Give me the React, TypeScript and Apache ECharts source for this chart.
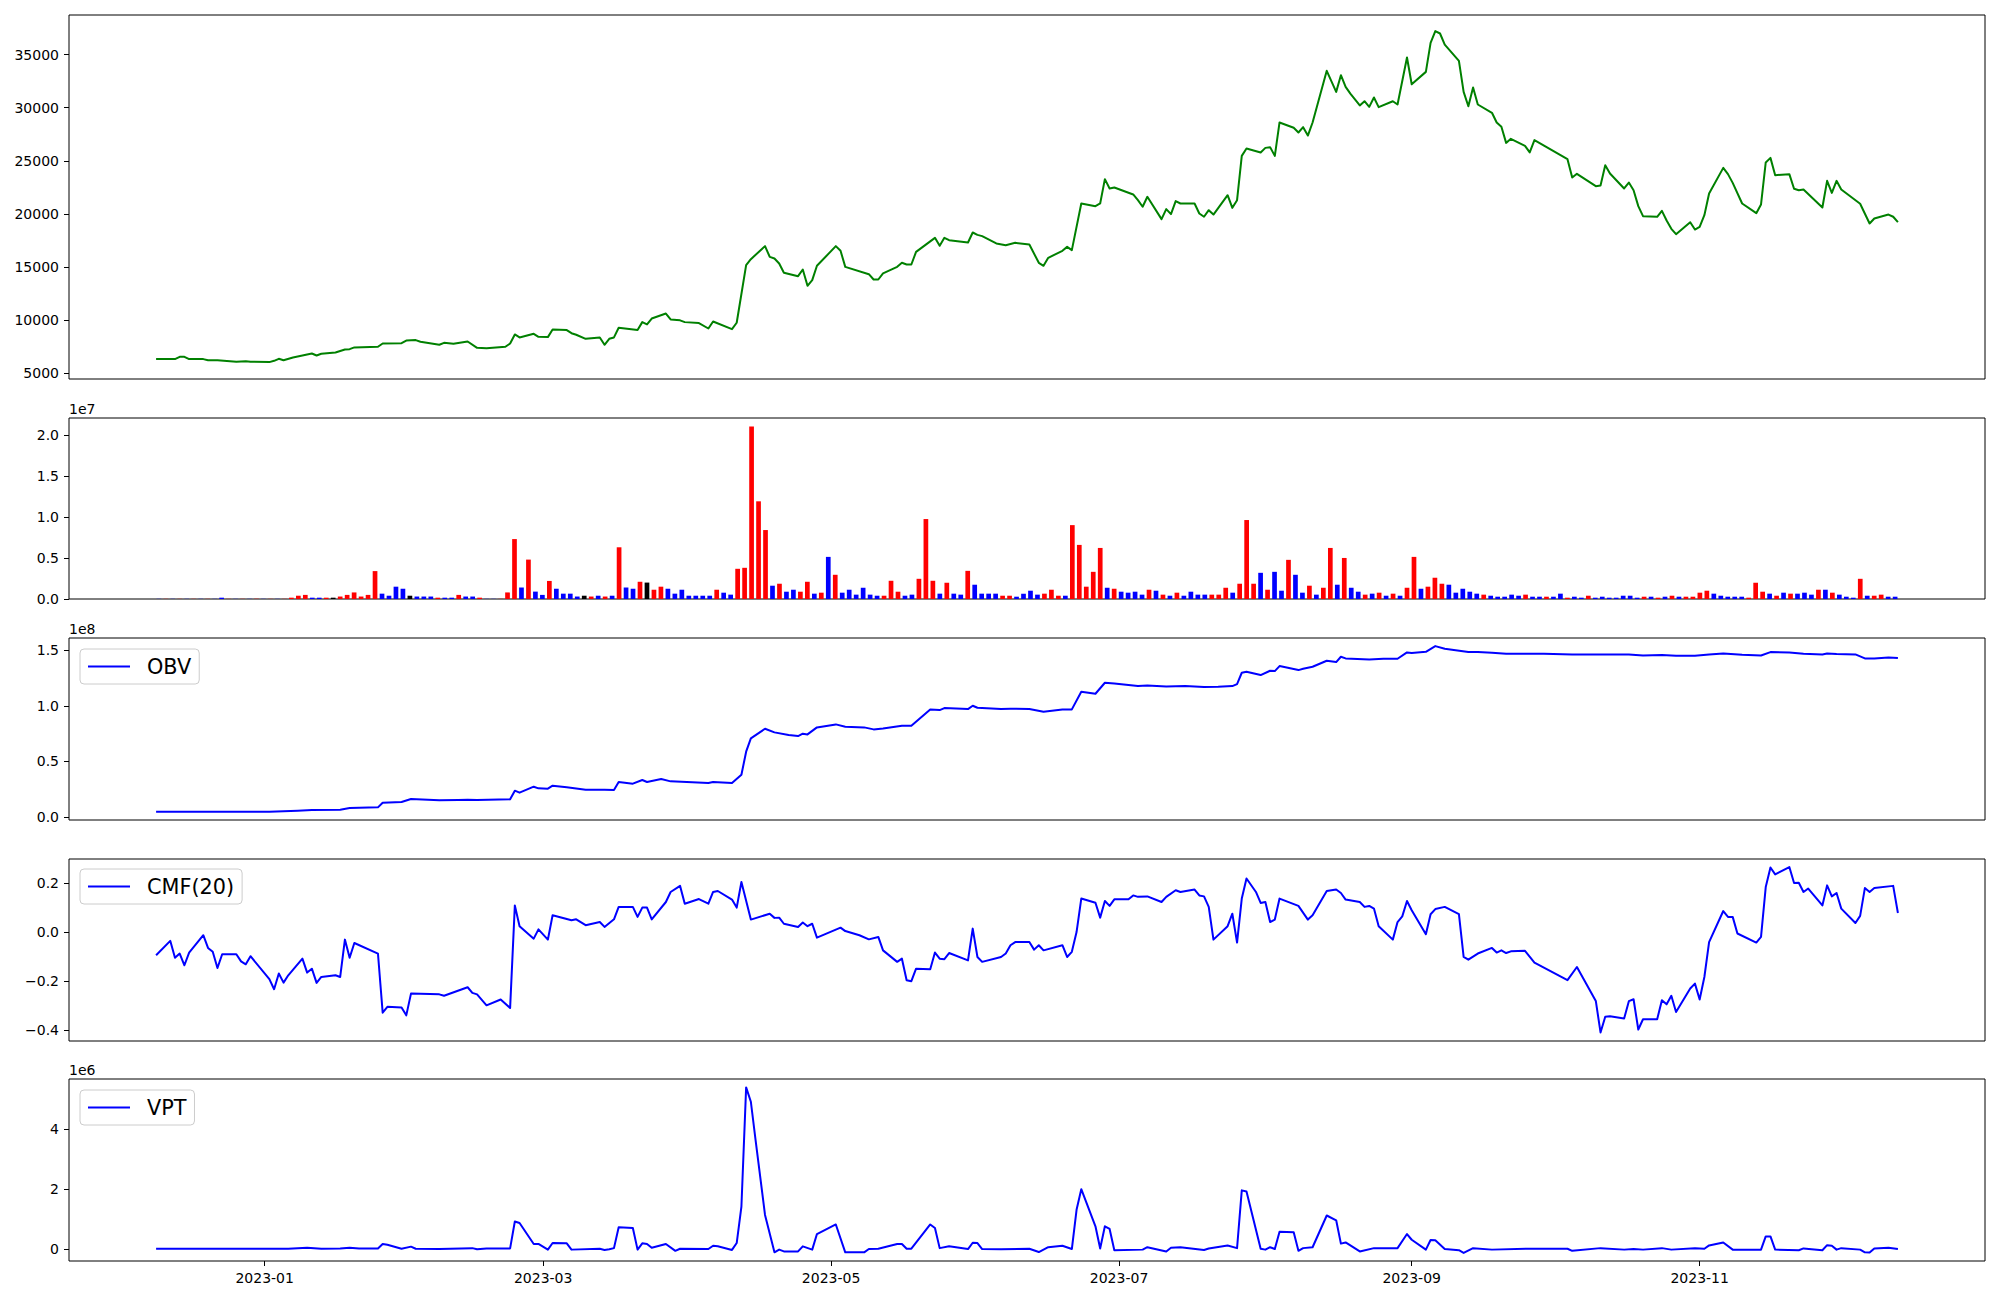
import React, { useEffect, useRef } from 'react';
import * as echarts from 'echarts';

// ---------- x axis (dates) ----------
const xTickLabels = ['2023-01', '2023-03', '2023-05', '2023-07', '2023-09', '2023-11'];
const xAxisRange = ['2022-11-20 13:12', '2023-12-31 10:48'];

// ---------- price (close) ----------
const price: [string, number][] = [
  ['2022-12-09', 6350], ['2022-12-13', 6350], ['2022-12-14', 6570], ['2022-12-15', 6570], ['2022-12-16', 6350], ['2022-12-19', 6350], ['2022-12-20', 6250], ['2022-12-22', 6250], ['2022-12-26', 6100], ['2022-12-28', 6160], ['2022-12-29', 6100],
  ['2023-01-02', 6070], ['2023-01-03', 6190], ['2023-01-04', 6380], ['2023-01-05', 6250], ['2023-01-07', 6500], ['2023-01-11', 6880], ['2023-01-12', 6690], ['2023-01-13', 6850], ['2023-01-16', 6980], ['2023-01-18', 7260], ['2023-01-19', 7290], ['2023-01-20', 7450], ['2023-01-25', 7510], ['2023-01-26', 7820], ['2023-01-30', 7850], ['2023-01-31', 8100],
  ['2023-02-02', 8140], ['2023-02-03', 7980], ['2023-02-07', 7700], ['2023-02-08', 7880], ['2023-02-10', 7790], ['2023-02-13', 8010], ['2023-02-15', 7410], ['2023-02-17', 7380], ['2023-02-21', 7510], ['2023-02-22', 7820], ['2023-02-23', 8670], ['2023-02-24', 8390], ['2023-02-27', 8730], ['2023-02-28', 8450],
  ['2023-03-02', 8420], ['2023-03-03', 9140], ['2023-03-06', 9080], ['2023-03-07', 8790], ['2023-03-08', 8640], ['2023-03-10', 8260], ['2023-03-13', 8390], ['2023-03-14', 7700], ['2023-03-15', 8260], ['2023-03-16', 8390], ['2023-03-17', 9300], ['2023-03-21', 9080], ['2023-03-22', 9830], ['2023-03-23', 9610], ['2023-03-24', 10170], ['2023-03-27', 10640], ['2023-03-28', 10080], ['2023-03-30', 10000], ['2023-03-31', 9830],
  ['2023-04-03', 9740], ['2023-04-05', 9230], ['2023-04-06', 9890], ['2023-04-10', 9170], ['2023-04-11', 9770], ['2023-04-13', 15190], ['2023-04-14', 15750], ['2023-04-17', 16980], ['2023-04-18', 15970], ['2023-04-19', 15820], ['2023-04-20', 15350], ['2023-04-21', 14470], ['2023-04-24', 14150], ['2023-04-25', 14780], ['2023-04-26', 13250], ['2023-04-27', 13780], ['2023-04-28', 15130],
  ['2023-05-02', 16980], ['2023-05-03', 16540], ['2023-05-04', 15030], ['2023-05-09', 14340], ['2023-05-10', 13840], ['2023-05-11', 13840], ['2023-05-12', 14410], ['2023-05-15', 15030], ['2023-05-16', 15410], ['2023-05-17', 15250], ['2023-05-18', 15250], ['2023-05-19', 16440], ['2023-05-23', 17760], ['2023-05-24', 17010], ['2023-05-25', 17760], ['2023-05-26', 17540], ['2023-05-30', 17320], ['2023-05-31', 18260],
  ['2023-06-01', 18040], ['2023-06-02', 17920], ['2023-06-05', 17230], ['2023-06-07', 17070], ['2023-06-09', 17290], ['2023-06-12', 17130], ['2023-06-14', 15410], ['2023-06-15', 15130], ['2023-06-16', 15880], ['2023-06-19', 16540], ['2023-06-20', 16910], ['2023-06-21', 16600], ['2023-06-23', 20990], ['2023-06-26', 20740], ['2023-06-27', 20990], ['2023-06-28', 23280], ['2023-06-29', 22400], ['2023-06-30', 22490],
  ['2023-07-04', 21840], ['2023-07-05', 21300], ['2023-07-06', 20680], ['2023-07-07', 21620], ['2023-07-10', 19520], ['2023-07-11', 20460], ['2023-07-12', 19990], ['2023-07-13', 21210], ['2023-07-14', 20990], ['2023-07-17', 20990], ['2023-07-18', 20050], ['2023-07-19', 19740], ['2023-07-20', 20360], ['2023-07-21', 19950], ['2023-07-24', 21770], ['2023-07-25', 20580], ['2023-07-26', 21300], ['2023-07-27', 25470], ['2023-07-28', 26160], ['2023-07-31', 25790],
  ['2023-08-01', 26220], ['2023-08-02', 26290], ['2023-08-03', 25470], ['2023-08-04', 28610], ['2023-08-07', 28110], ['2023-08-08', 27670], ['2023-08-09', 28170], ['2023-08-10', 27380], ['2023-08-11', 28610], ['2023-08-14', 33470], ['2023-08-16', 31490], ['2023-08-17', 33060], ['2023-08-18', 31960], ['2023-08-19', 31330], ['2023-08-21', 30210], ['2023-08-22', 30610], ['2023-08-23', 30080], ['2023-08-24', 30960], ['2023-08-25', 30050], ['2023-08-28', 30610], ['2023-08-29', 30300], ['2023-08-31', 34720],
  ['2023-09-01', 32210], ['2023-09-04', 33370], ['2023-09-05', 36100], ['2023-09-06', 37200], ['2023-09-07', 36980], ['2023-09-08', 35940], ['2023-09-11', 34410], ['2023-09-12', 31490], ['2023-09-13', 30140], ['2023-09-14', 31900], ['2023-09-15', 30300], ['2023-09-18', 29520], ['2023-09-19', 28610], ['2023-09-20', 28200], ['2023-09-21', 26690], ['2023-09-22', 27070], ['2023-09-25', 26410], ['2023-09-26', 25790], ['2023-09-27', 26950],
  ['2023-10-04', 25160], ['2023-10-05', 23430], ['2023-10-06', 23780], ['2023-10-10', 22620], ['2023-10-11', 22680], ['2023-10-12', 24590], ['2023-10-13', 23810], ['2023-10-16', 22400], ['2023-10-17', 22960], ['2023-10-18', 22240], ['2023-10-19', 20740], ['2023-10-20', 19800], ['2023-10-23', 19740], ['2023-10-24', 20300], ['2023-10-25', 19390], ['2023-10-26', 18610], ['2023-10-27', 18100], ['2023-10-30', 19230], ['2023-10-31', 18540],
  ['2023-11-01', 18790], ['2023-11-02', 19890], ['2023-11-03', 21930], ['2023-11-06', 24340], ['2023-11-07', 23750], ['2023-11-08', 22930], ['2023-11-10', 20990], ['2023-11-13', 20080], ['2023-11-14', 20900], ['2023-11-15', 24850], ['2023-11-16', 25280], ['2023-11-17', 23650], ['2023-11-20', 23750], ['2023-11-21', 22370], ['2023-11-22', 22240], ['2023-11-23', 22310], ['2023-11-27', 20610], ['2023-11-28', 23120], ['2023-11-29', 21990], ['2023-11-30', 23120],
  ['2023-12-01', 22310], ['2023-12-05', 20960], ['2023-12-07', 19110], ['2023-12-08', 19580], ['2023-12-11', 19950], ['2023-12-12', 19740], ['2023-12-13', 19230],
];

// ---------- volume (one bar per trading session, in shares) ----------
const volume: number[] = [
  0.02e6, 0.02e6, 0.02e6, 0.02e6, 0.02e6, 0.02e6, 0.02e6, 0.02e6, 0.02e6, 0.16e6,
  0.02e6, 0.02e6, 0.02e6, 0.02e6, 0.02e6, 0.02e6, 0.02e6, 0.02e6, 0.02e6, 0.16e6,
  0.4e6, 0.5e6, 0.16e6, 0.16e6, 0.16e6, 0.16e6, 0.3e6, 0.5e6, 0.8e6, 0.3e6,
  0.5e6, 3.4e6, 0.65e6, 0.4e6, 1.5e6, 1.25e6, 0.4e6, 0.3e6, 0.3e6, 0.3e6,
  0.16e6, 0.16e6, 0.16e6, 0.5e6, 0.3e6, 0.3e6, 0.16e6, 0.02e6, 0.02e6, 0.02e6,
  0.8e6, 7.3e6, 1.4e6, 4.8e6, 0.9e6, 0.5e6, 2.2e6, 1.25e6, 0.65e6, 0.65e6,
  0.3e6, 0.4e6, 0.3e6, 0.4e6, 0.3e6, 0.4e6, 6.3e6, 1.4e6, 1.25e6, 2.1e6,
  2.0e6, 1.13e6, 1.5e6, 1.25e6, 0.65e6, 1.13e6, 0.4e6, 0.4e6, 0.4e6, 0.4e6,
  1.13e6, 0.77e6, 0.53e6, 3.68e6, 3.8e6, 21.0e6, 11.9e6, 8.4e6, 1.62e6, 1.86e6,
  0.89e6, 1.13e6, 0.89e6, 2.1e6, 0.65e6, 0.77e6, 5.13e6, 2.95e6, 0.77e6, 1.13e6,
  0.53e6, 1.37e6, 0.53e6, 0.4e6, 0.4e6, 2.22e6, 0.89e6, 0.4e6, 0.53e6, 2.46e6,
  9.74e6, 2.22e6, 0.65e6, 1.98e6, 0.65e6, 0.53e6, 3.43e6, 1.74e6, 0.65e6, 0.65e6,
  0.65e6, 0.4e6, 0.4e6, 0.28e6, 0.65e6, 1.01e6, 0.53e6, 0.65e6, 1.13e6, 0.4e6,
  0.4e6, 9.0e6, 6.59e6, 1.5e6, 3.31e6, 6.22e6, 1.37e6, 1.25e6, 0.89e6, 0.77e6,
  0.89e6, 0.53e6, 1.13e6, 1.01e6, 0.53e6, 0.4e6, 0.77e6, 0.4e6, 0.89e6, 0.53e6,
  0.53e6, 0.53e6, 0.53e6, 1.37e6, 0.77e6, 1.86e6, 9.62e6, 1.86e6, 3.19e6, 1.13e6,
  3.31e6, 1.01e6, 4.77e6, 2.95e6, 0.77e6, 1.62e6, 0.53e6, 1.37e6, 6.22e6, 1.74e6,
  5.0e6, 1.37e6, 0.89e6, 0.53e6, 0.65e6, 0.77e6, 0.4e6, 0.65e6, 0.4e6, 1.37e6,
  5.13e6, 1.25e6, 1.5e6, 2.59e6, 1.86e6, 1.74e6, 0.77e6, 1.25e6, 0.89e6, 0.65e6,
  0.53e6, 0.4e6, 0.28e6, 0.28e6, 0.53e6, 0.4e6, 0.53e6, 0.28e6, 0.28e6, 0.28e6,
  0.28e6, 0.65e6, 0.16e6, 0.28e6, 0.16e6, 0.4e6, 0.16e6, 0.28e6, 0.16e6, 0.16e6,
  0.4e6, 0.4e6, 0.16e6, 0.28e6, 0.28e6, 0.16e6, 0.28e6, 0.4e6, 0.28e6, 0.28e6,
  0.28e6, 0.77e6, 1.01e6, 0.65e6, 0.4e6, 0.28e6, 0.28e6, 0.28e6, 0.16e6, 1.98e6,
  0.89e6, 0.65e6, 0.4e6, 0.77e6, 0.65e6, 0.65e6, 0.77e6, 0.53e6, 1.13e6, 1.13e6,
  0.77e6, 0.53e6, 0.28e6, 0.16e6, 2.46e6, 0.4e6, 0.4e6, 0.53e6, 0.28e6, 0.28e6,
];
// 1 = close up (red), -1 = close down (blue), 0 = unchanged (black)
const volumeSign: number[] = [
  -1, 1, -1, 1, -1, 1, -1, 1, -1, -1,
  1, -1, 1, -1, 1, -1, 1, -1, 1, 1,
  1, 1, -1, -1, 1, 0, 1, 1, 1, 1,
  1, 1, -1, -1, -1, -1, 0, -1, -1, -1,
  1, -1, -1, 1, -1, -1, 1, -1, -1, 1,
  1, 1, -1, 1, -1, -1, 1, -1, -1, -1,
  -1, 0, 1, -1, 1, -1, 1, -1, -1, 1,
  0, 1, 1, -1, -1, -1, -1, -1, -1, -1,
  1, -1, -1, 1, 1, 1, 1, 1, -1, 1,
  -1, -1, 1, 1, -1, 1, -1, 1, -1, -1,
  -1, -1, -1, -1, 1, 1, 1, -1, -1, 1,
  1, 1, -1, 1, -1, -1, 1, -1, -1, -1,
  -1, 1, 1, -1, -1, -1, -1, 1, 1, 1,
  -1, 1, 1, 1, 1, 1, -1, 1, -1, -1,
  -1, -1, 1, -1, 1, -1, 1, -1, -1, -1,
  -1, 1, 1, 1, -1, 1, 1, 1, -1, 1,
  -1, -1, 1, -1, -1, 1, -1, 1, 1, -1,
  1, -1, -1, 1, -1, 1, -1, 1, -1, 1,
  1, -1, 1, 1, 1, -1, -1, -1, -1, -1,
  1, -1, -1, -1, -1, -1, 1, -1, -1, 1,
  -1, -1, 1, -1, -1, 1, -1, -1, -1, -1,
  -1, -1, -1, 1, -1, 1, -1, 1, -1, 1,
  1, 1, 1, -1, -1, -1, -1, -1, 1, 1,
  1, -1, 1, -1, 1, -1, -1, -1, 1, -1,
  1, -1, -1, -1, 1, -1, 1, 1, -1, -1,
];

// ---------- OBV ----------
const obv: [string, number][] = [
  ['2022-12-09', 0.048e8], ['2023-01-02', 0.048e8], ['2023-01-08', 0.057e8], ['2023-01-11', 0.063e8], ['2023-01-17', 0.066e8], ['2023-01-19', 0.081e8], ['2023-01-25', 0.087e8], ['2023-01-26', 0.129e8], ['2023-01-30', 0.135e8],
  ['2023-02-01', 0.162e8], ['2023-02-07', 0.150e8], ['2023-02-11', 0.153e8], ['2023-02-13', 0.156e8], ['2023-02-15', 0.153e8], ['2023-02-22', 0.159e8], ['2023-02-23', 0.237e8], ['2023-02-24', 0.219e8], ['2023-02-27', 0.273e8], ['2023-02-28', 0.258e8],
  ['2023-03-02', 0.255e8], ['2023-03-03', 0.282e8], ['2023-03-06', 0.267e8], ['2023-03-10', 0.246e8], ['2023-03-14', 0.246e8], ['2023-03-16', 0.243e8], ['2023-03-17', 0.315e8], ['2023-03-20', 0.300e8], ['2023-03-22', 0.333e8], ['2023-03-23', 0.315e8], ['2023-03-26', 0.342e8], ['2023-03-28', 0.321e8],
  ['2023-04-05', 0.306e8], ['2023-04-06', 0.315e8], ['2023-04-10', 0.306e8], ['2023-04-12', 0.381e8], ['2023-04-13', 0.588e8], ['2023-04-14', 0.708e8], ['2023-04-17', 0.795e8], ['2023-04-19', 0.762e8], ['2023-04-22', 0.738e8], ['2023-04-24', 0.729e8], ['2023-04-25', 0.750e8], ['2023-04-26', 0.744e8], ['2023-04-28', 0.807e8],
  ['2023-05-02', 0.834e8], ['2023-05-04', 0.813e8], ['2023-05-08', 0.807e8], ['2023-05-10', 0.789e8], ['2023-05-12', 0.798e8], ['2023-05-16', 0.822e8], ['2023-05-18', 0.822e8], ['2023-05-22', 0.969e8], ['2023-05-24', 0.963e8], ['2023-05-25', 0.981e8], ['2023-05-30', 0.972e8], ['2023-05-31', 1.002e8],
  ['2023-06-01', 0.984e8], ['2023-06-06', 0.972e8], ['2023-06-08', 0.975e8], ['2023-06-12', 0.972e8], ['2023-06-15', 0.948e8], ['2023-06-19', 0.969e8], ['2023-06-21', 0.969e8], ['2023-06-23', 1.128e8], ['2023-06-26', 1.110e8], ['2023-06-28', 1.209e8], ['2023-06-30', 1.203e8],
  ['2023-07-05', 1.179e8], ['2023-07-07', 1.185e8], ['2023-07-11', 1.176e8], ['2023-07-15', 1.179e8], ['2023-07-19', 1.170e8], ['2023-07-22', 1.173e8], ['2023-07-25', 1.179e8], ['2023-07-26', 1.197e8], ['2023-07-27', 1.299e8], ['2023-07-28', 1.308e8], ['2023-07-31', 1.278e8],
  ['2023-08-02', 1.317e8], ['2023-08-03', 1.314e8], ['2023-08-04', 1.359e8], ['2023-08-08', 1.323e8], ['2023-08-09', 1.335e8], ['2023-08-11', 1.353e8], ['2023-08-14', 1.407e8], ['2023-08-16', 1.395e8], ['2023-08-17', 1.443e8], ['2023-08-18', 1.428e8], ['2023-08-23', 1.419e8], ['2023-08-26', 1.425e8], ['2023-08-29', 1.425e8], ['2023-08-31', 1.482e8],
  ['2023-09-01', 1.476e8], ['2023-09-04', 1.488e8], ['2023-09-06', 1.539e8], ['2023-09-08', 1.515e8], ['2023-09-13', 1.485e8], ['2023-09-15', 1.485e8], ['2023-09-18', 1.479e8], ['2023-09-21', 1.470e8], ['2023-09-29', 1.470e8],
  ['2023-10-05', 1.464e8], ['2023-10-11', 1.464e8], ['2023-10-17', 1.464e8], ['2023-10-20', 1.455e8], ['2023-10-24', 1.458e8], ['2023-10-27', 1.452e8], ['2023-10-31', 1.452e8],
  ['2023-11-03', 1.464e8], ['2023-11-06', 1.473e8], ['2023-11-10', 1.461e8], ['2023-11-14', 1.455e8], ['2023-11-16', 1.485e8], ['2023-11-20', 1.482e8], ['2023-11-23', 1.470e8], ['2023-11-27', 1.464e8], ['2023-11-28', 1.473e8], ['2023-11-30', 1.467e8],
  ['2023-12-04', 1.464e8], ['2023-12-06', 1.428e8], ['2023-12-08', 1.428e8], ['2023-12-11', 1.437e8], ['2023-12-13', 1.431e8],
];

// ---------- CMF(20) ----------
const cmf: [string, number][] = [
  ['2022-12-09', -0.094], ['2022-12-12', -0.035], ['2022-12-13', -0.104], ['2022-12-14', -0.087], ['2022-12-15', -0.135], ['2022-12-16', -0.083], ['2022-12-19', -0.012], ['2022-12-20', -0.064], ['2022-12-21', -0.080], ['2022-12-22', -0.146], ['2022-12-23', -0.090], ['2022-12-26', -0.090], ['2022-12-27', -0.119], ['2022-12-28', -0.131], ['2022-12-29', -0.098],
  ['2023-01-02', -0.192], ['2023-01-03', -0.233], ['2023-01-04', -0.169], ['2023-01-05', -0.206], ['2023-01-06', -0.176], ['2023-01-09', -0.108], ['2023-01-10', -0.165], ['2023-01-11', -0.149], ['2023-01-12', -0.207], ['2023-01-13', -0.183], ['2023-01-16', -0.176], ['2023-01-17', -0.183], ['2023-01-18', -0.030], ['2023-01-19', -0.104], ['2023-01-20', -0.044], ['2023-01-25', -0.087], ['2023-01-26', -0.329], ['2023-01-27', -0.305], ['2023-01-30', -0.308], ['2023-01-31', -0.340],
  ['2023-02-01', -0.251], ['2023-02-07', -0.254], ['2023-02-08', -0.260], ['2023-02-13', -0.225], ['2023-02-14', -0.248], ['2023-02-15', -0.254], ['2023-02-17', -0.299], ['2023-02-20', -0.275], ['2023-02-22', -0.310], ['2023-02-23', 0.110], ['2023-02-24', 0.025], ['2023-02-27', -0.026], ['2023-02-28', 0.012],
  ['2023-03-02', -0.030], ['2023-03-03', 0.070], ['2023-03-07', 0.049], ['2023-03-08', 0.053], ['2023-03-10', 0.029], ['2023-03-13', 0.042], ['2023-03-14', 0.022], ['2023-03-16', 0.053], ['2023-03-17', 0.104], ['2023-03-20', 0.104], ['2023-03-21', 0.063], ['2023-03-22', 0.101], ['2023-03-23', 0.101], ['2023-03-24', 0.053], ['2023-03-27', 0.124], ['2023-03-28', 0.165], ['2023-03-30', 0.190], ['2023-03-31', 0.117],
  ['2023-04-03', 0.136], ['2023-04-05', 0.117], ['2023-04-06', 0.165], ['2023-04-07', 0.169], ['2023-04-10', 0.134], ['2023-04-11', 0.101], ['2023-04-12', 0.206], ['2023-04-14', 0.052], ['2023-04-18', 0.076], ['2023-04-19', 0.059], ['2023-04-20', 0.060], ['2023-04-21', 0.035], ['2023-04-24', 0.022], ['2023-04-25', 0.040], ['2023-04-26', 0.025], ['2023-04-27', 0.035], ['2023-04-28', -0.022],
  ['2023-05-03', 0.019], ['2023-05-04', 0.005], ['2023-05-07', -0.012], ['2023-05-09', -0.029], ['2023-05-11', -0.019], ['2023-05-12', -0.074], ['2023-05-15', -0.121], ['2023-05-16', -0.108], ['2023-05-17', -0.196], ['2023-05-18', -0.200], ['2023-05-19', -0.149], ['2023-05-22', -0.151], ['2023-05-23', -0.083], ['2023-05-24', -0.108], ['2023-05-25', -0.110], ['2023-05-26', -0.085], ['2023-05-30', -0.115], ['2023-05-31', 0.015],
  ['2023-06-01', -0.101], ['2023-06-02', -0.121], ['2023-06-06', -0.101], ['2023-06-07', -0.087], ['2023-06-08', -0.053], ['2023-06-09', -0.040], ['2023-06-12', -0.040], ['2023-06-13', -0.071], ['2023-06-14', -0.053], ['2023-06-15', -0.074], ['2023-06-19', -0.053], ['2023-06-20', -0.101], ['2023-06-21', -0.080], ['2023-06-22', 0.001], ['2023-06-23', 0.138], ['2023-06-26', 0.121], ['2023-06-27', 0.060], ['2023-06-28', 0.128], ['2023-06-29', 0.108], ['2023-06-30', 0.135],
  ['2023-07-03', 0.135], ['2023-07-04', 0.151], ['2023-07-05', 0.145], ['2023-07-07', 0.147], ['2023-07-10', 0.124], ['2023-07-11', 0.145], ['2023-07-13', 0.172], ['2023-07-14', 0.165], ['2023-07-17', 0.175], ['2023-07-18', 0.151], ['2023-07-19', 0.147], ['2023-07-20', 0.104], ['2023-07-21', -0.030], ['2023-07-24', 0.025], ['2023-07-25', 0.076], ['2023-07-26', -0.042], ['2023-07-27', 0.138], ['2023-07-28', 0.220], ['2023-07-30', 0.165], ['2023-07-31', 0.120],
  ['2023-08-01', 0.124], ['2023-08-02', 0.042], ['2023-08-03', 0.052], ['2023-08-04', 0.138], ['2023-08-08', 0.108], ['2023-08-10', 0.052], ['2023-08-11', 0.070], ['2023-08-14', 0.169], ['2023-08-16', 0.175], ['2023-08-17', 0.161], ['2023-08-18', 0.134], ['2023-08-21', 0.124], ['2023-08-22', 0.104], ['2023-08-23', 0.108], ['2023-08-24', 0.097], ['2023-08-25', 0.025], ['2023-08-28', -0.030], ['2023-08-29', 0.042], ['2023-08-30', 0.065], ['2023-08-31', 0.128],
  ['2023-09-01', 0.090], ['2023-09-04', -0.008], ['2023-09-05', 0.074], ['2023-09-06', 0.095], ['2023-09-08', 0.104], ['2023-09-11', 0.074], ['2023-09-12', -0.101], ['2023-09-13', -0.112], ['2023-09-15', -0.087], ['2023-09-18', -0.064], ['2023-09-19', -0.083], ['2023-09-20', -0.074], ['2023-09-21', -0.085], ['2023-09-22', -0.078], ['2023-09-25', -0.076], ['2023-09-27', -0.124],
  ['2023-10-04', -0.196], ['2023-10-06', -0.142], ['2023-10-10', -0.281], ['2023-10-11', -0.410], ['2023-10-12', -0.346], ['2023-10-13', -0.344], ['2023-10-16', -0.353], ['2023-10-17', -0.282], ['2023-10-18', -0.274], ['2023-10-19', -0.398], ['2023-10-20', -0.356], ['2023-10-23', -0.356], ['2023-10-24', -0.278], ['2023-10-25', -0.295], ['2023-10-26', -0.260], ['2023-10-27', -0.326], ['2023-10-30', -0.230], ['2023-10-31', -0.210],
  ['2023-11-01', -0.275], ['2023-11-02', -0.183], ['2023-11-03', -0.040], ['2023-11-06', 0.087], ['2023-11-07', 0.063], ['2023-11-08', 0.063], ['2023-11-09', -0.005], ['2023-11-13', -0.042], ['2023-11-14', -0.019], ['2023-11-15', 0.185], ['2023-11-16', 0.265], ['2023-11-17', 0.237], ['2023-11-20', 0.267], ['2023-11-21', 0.202], ['2023-11-22', 0.203], ['2023-11-23', 0.165], ['2023-11-24', 0.179], ['2023-11-27', 0.110], ['2023-11-28', 0.192], ['2023-11-29', 0.147], ['2023-11-30', 0.161],
  ['2023-12-01', 0.097], ['2023-12-04', 0.038], ['2023-12-05', 0.067], ['2023-12-06', 0.181], ['2023-12-07', 0.165], ['2023-12-08', 0.181], ['2023-12-12', 0.190], ['2023-12-13', 0.079],
];

// ---------- VPT ----------
const vpt: [string, number][] = [
  ['2022-12-09', 0.01e6], ['2023-01-06', 0.01e6], ['2023-01-10', 0.04e6], ['2023-01-13', 0.01e6], ['2023-01-17', 0.02e6], ['2023-01-19', 0.04e6], ['2023-01-21', 0.02e6], ['2023-01-25', 0.02e6], ['2023-01-26', 0.17e6], ['2023-01-27', 0.14e6], ['2023-01-30', 0.01e6],
  ['2023-02-01', 0.08e6], ['2023-02-02', 0.01e6], ['2023-02-07', 0.0], ['2023-02-14', 0.03e6], ['2023-02-15', -0.01e6], ['2023-02-17', 0.02e6], ['2023-02-22', 0.02e6], ['2023-02-23', 0.92e6], ['2023-02-24', 0.87e6], ['2023-02-27', 0.17e6], ['2023-02-28', 0.17e6],
  ['2023-03-02', -0.02e6], ['2023-03-03', 0.20e6], ['2023-03-06', 0.19e6], ['2023-03-07', -0.02e6], ['2023-03-13', 0.01e6], ['2023-03-14', -0.03e6], ['2023-03-15', -0.01e6], ['2023-03-16', 0.03e6], ['2023-03-17', 0.73e6], ['2023-03-20', 0.70e6], ['2023-03-21', -0.02e6], ['2023-03-22', 0.19e6], ['2023-03-23', 0.17e6], ['2023-03-24', 0.04e6], ['2023-03-27', 0.17e6], ['2023-03-29', -0.06e6], ['2023-03-30', 0.01e6],
  ['2023-04-05', 0.0], ['2023-04-06', 0.11e6], ['2023-04-07', 0.09e6], ['2023-04-10', -0.03e6], ['2023-04-11', 0.20e6], ['2023-04-12', 1.42e6], ['2023-04-13', 5.40e6], ['2023-04-14', 4.92e6], ['2023-04-15', 3.64e6], ['2023-04-17', 1.14e6], ['2023-04-19', -0.11e6], ['2023-04-20', -0.02e6], ['2023-04-21', -0.08e6], ['2023-04-24', -0.08e6], ['2023-04-25', 0.09e6], ['2023-04-27', -0.02e6], ['2023-04-28', 0.50e6],
  ['2023-05-02', 0.82e6], ['2023-05-04', -0.11e6], ['2023-05-08', -0.11e6], ['2023-05-09', 0.0], ['2023-05-11', 0.01e6], ['2023-05-15', 0.17e6], ['2023-05-16', 0.17e6], ['2023-05-17', 0.01e6], ['2023-05-18', 0.01e6], ['2023-05-22', 0.82e6], ['2023-05-23', 0.70e6], ['2023-05-24', 0.03e6], ['2023-05-26', 0.09e6], ['2023-05-30', 0.0], ['2023-05-31', 0.21e6],
  ['2023-06-01', 0.20e6], ['2023-06-02', 0.0], ['2023-06-06', -0.01e6], ['2023-06-12', 0.01e6], ['2023-06-14', -0.10e6], ['2023-06-16', 0.06e6], ['2023-06-19', 0.11e6], ['2023-06-21', 0.0], ['2023-06-22', 1.31e6], ['2023-06-23', 2.00e6], ['2023-06-26', 0.76e6], ['2023-06-27', 0.02e6], ['2023-06-28', 0.76e6], ['2023-06-29', 0.67e6], ['2023-06-30', -0.04e6],
  ['2023-07-06', -0.02e6], ['2023-07-07', 0.06e6], ['2023-07-11', -0.08e6], ['2023-07-12', 0.04e6], ['2023-07-14', 0.06e6], ['2023-07-19', -0.03e6], ['2023-07-20', 0.02e6], ['2023-07-24', 0.12e6], ['2023-07-26', 0.03e6], ['2023-07-27', 1.96e6], ['2023-07-28', 1.92e6], ['2023-07-31', 0.01e6],
  ['2023-08-01', -0.02e6], ['2023-08-02', 0.06e6], ['2023-08-03', 0.0], ['2023-08-04', 0.58e6], ['2023-08-07', 0.56e6], ['2023-08-08', -0.06e6], ['2023-08-09', 0.03e6], ['2023-08-11', 0.06e6], ['2023-08-14', 1.12e6], ['2023-08-16', 0.96e6], ['2023-08-17', 0.18e6], ['2023-08-18', 0.22e6], ['2023-08-21', -0.08e6], ['2023-08-24', 0.03e6], ['2023-08-29', 0.03e6], ['2023-08-31', 0.50e6],
  ['2023-09-01', 0.31e6], ['2023-09-04', -0.02e6], ['2023-09-05', 0.30e6], ['2023-09-06', 0.29e6], ['2023-09-08', 0.0], ['2023-09-11', -0.04e6], ['2023-09-12', -0.13e6], ['2023-09-14', 0.03e6], ['2023-09-18', -0.02e6], ['2023-09-26', 0.01e6],
  ['2023-10-04', 0.01e6], ['2023-10-05', -0.06e6], ['2023-10-11', 0.03e6], ['2023-10-16', -0.02e6], ['2023-10-18', 0.0], ['2023-10-20', -0.02e6], ['2023-10-24', 0.03e6], ['2023-10-26', -0.02e6], ['2023-10-31', 0.03e6],
  ['2023-11-02', 0.01e6], ['2023-11-03', 0.12e6], ['2023-11-06', 0.22e6], ['2023-11-08', -0.02e6], ['2023-11-14', -0.02e6], ['2023-11-15', 0.42e6], ['2023-11-16', 0.42e6], ['2023-11-17', -0.02e6], ['2023-11-22', -0.04e6], ['2023-11-23', 0.02e6], ['2023-11-27', -0.04e6], ['2023-11-28', 0.13e6], ['2023-11-29', 0.11e6], ['2023-11-30', -0.02e6],
  ['2023-12-01', 0.03e6], ['2023-12-05', -0.02e6], ['2023-12-06', -0.11e6], ['2023-12-07', -0.12e6], ['2023-12-08', 0.02e6], ['2023-12-11', 0.04e6], ['2023-12-13', 0.0],
];

// ---------- y axis ticks / limits ----------
const priceTicks = [5000, 10000, 15000, 20000, 25000, 30000, 35000];
const priceLimits = [4480, 38720];
const volumeTicks = [0, 0.5e7, 1.0e7, 1.5e7, 2.0e7];
const volumeLimits = [0, 2.205e7];
const obvTicks = [0, 0.5e8, 1.0e8, 1.5e8];
const obvLimits = [-0.027e8, 1.612e8];
const cmfTicks = [-0.4, -0.2, 0.0, 0.2];
const cmfLimits = [-0.445, 0.3];
const vptTicks = [0, 2e6, 4e6];
const vptLimits = [-0.4e6, 5.68e6];

const FONT = 'DejaVu Sans';

function toTime(s: string): number {
  const [datePart, timePart] = s.split(' ');
  const [y, m, d] = datePart.split('-').map(Number);
  const [hh, mm] = (timePart || '0:0').split(':').map(Number);
  return new Date(y, m - 1, d, hh, mm).getTime();
}

const minus = (s: string) => s.replace('-', '\u2212');

export default function App() {
  const ref = useRef<HTMLDivElement>(null);

  useEffect(() => {
    if (!ref.current) return;
    const chart = echarts.init(ref.current, undefined, { renderer: 'svg' });

    const xMin = toTime(xAxisRange[0]);
    const xMax = toTime(xAxisRange[1]);
    const xTicks = xTickLabels.map((l) => toTime(l + '-01'));
    const fmtMonth = (v: number) => {
      const d = new Date(v);
      return `${d.getFullYear()}-${String(d.getMonth() + 1).padStart(2, '0')}`;
    };

    const gridBase = { left: 69, width: 1916, show: true, borderColor: '#000', borderWidth: 1, backgroundColor: '#fff' };
    const grids = [
      { ...gridBase, top: 15, height: 364 },
      { ...gridBase, top: 418, height: 181 },
      { ...gridBase, top: 638, height: 182 },
      { ...gridBase, top: 859, height: 182 },
      { ...gridBase, top: 1079, height: 182 },
    ];

    const labelStyle = { color: '#000', fontSize: 14, fontFamily: FONT };
    const tickStyle = { show: true, length: 5, lineStyle: { color: '#000', width: 1 } };

    // date axis drawn as a numeric (timestamp) axis so that ticks sit exactly on month starts
    const dateAxis = (gridIndex: number, showLabels: boolean) => ({
      type: 'value',
      gridIndex,
      position: 'bottom',
      min: xMin,
      max: xMax,
      scale: true,
      axisLine: { show: false, onZero: false },
      splitLine: { show: false },
      axisTick: { ...tickStyle, show: showLabels, customValues: xTicks },
      axisLabel: { ...labelStyle, show: showLabels, margin: 10, customValues: xTicks, formatter: (v: number) => fmtMonth(v) },
    });

    const n = volume.length;
    const barSpan = n - 1 + 0.8;
    const volXAxis = {
      type: 'value',
      gridIndex: 1,
      position: 'bottom',
      min: -0.4 - 0.05 * barSpan,
      max: n - 1 + 0.4 + 0.05 * barSpan,
      axisLine: { show: false, onZero: false },
      axisTick: { show: false },
      axisLabel: { show: false },
      splitLine: { show: false },
    };

    const yAxis = (gridIndex: number, limits: number[], ticks: number[], fmt: (v: number) => string, name?: string) => ({
      type: 'value',
      gridIndex,
      position: 'left',
      min: limits[0],
      max: limits[1],
      axisLine: { show: false, onZero: false },
      splitLine: { show: false },
      axisTick: { ...tickStyle, customValues: ticks },
      axisLabel: { ...labelStyle, margin: 10, customValues: ticks, formatter: fmt },
      name: name || '',
      nameLocation: 'end',
      nameGap: 9,
      nameTextStyle: { ...labelStyle, align: 'left', verticalAlign: 'middle' },
    });

    const lineSeries = (name: string, idx: number, data: [string, number][], color: string) => ({
      name,
      type: 'line',
      xAxisIndex: idx,
      yAxisIndex: idx,
      data: data.map(([d, v]) => [toTime(d), v]),
      symbol: 'none',
      showSymbol: false,
      lineStyle: { color, width: 2, join: 'round' },
      itemStyle: { color },
      silent: true,
    });

    const signColor = (s: number) => (s > 0 ? '#ff0000' : s < 0 ? '#0000ff' : '#000000');

    const legendBase = {
      orient: 'vertical',
      left: 80,
      icon: 'rect',
      itemWidth: 42,
      itemHeight: 2,
      padding: [5, 8, 5, 8],
      backgroundColor: 'rgba(255,255,255,0.8)',
      borderColor: '#cccccc',
      borderWidth: 1,
      borderRadius: 4,
      selectedMode: false,
      textStyle: { color: '#000', fontSize: 20.8, fontFamily: FONT, padding: [0, 0, 0, 12], lineHeight: 25 },
    };

    const option = {
      animation: false,
      backgroundColor: '#fff',
      textStyle: { fontFamily: FONT },
      grid: grids,
      xAxis: [dateAxis(0, false), volXAxis, dateAxis(2, false), dateAxis(3, false), dateAxis(4, true)],
      yAxis: [
        yAxis(0, priceLimits, priceTicks, (v) => String(Math.round(v))),
        yAxis(1, volumeLimits, volumeTicks, (v) => (v / 1e7).toFixed(1), '1e7'),
        yAxis(2, obvLimits, obvTicks, (v) => (v / 1e8).toFixed(1), '1e8'),
        yAxis(3, cmfLimits, cmfTicks, (v) => minus((Math.abs(v) < 1e-9 ? 0 : v).toFixed(1))),
        yAxis(4, vptLimits, vptTicks, (v) => String(Math.round(v / 1e6)), '1e6'),
      ],
      legend: [
        { ...legendBase, top: 649, data: ['OBV'] },
        { ...legendBase, top: 869, data: ['CMF(20)'] },
        { ...legendBase, top: 1090, data: ['VPT'] },
      ],
      series: [
        lineSeries('Close', 0, price, '#008000'),
        {
          name: 'Volume',
          type: 'bar',
          xAxisIndex: 1,
          yAxisIndex: 1,
          barWidth: 4.7,
          silent: true,
          data: volume.map((v, i) => ({ value: [i, v], itemStyle: { color: signColor(volumeSign[i]) } })),
        },
        lineSeries('OBV', 2, obv, '#0000ff'),
        lineSeries('CMF(20)', 3, cmf, '#0000ff'),
        lineSeries('VPT', 4, vpt, '#0000ff'),
      ],
    };

    chart.setOption(option as any);
    return () => chart.dispose();
  }, []);

  return <div ref={ref} style={{ position: 'absolute', left: 0, top: 0, width: 2000, height: 1300, background: '#fff' }} />;
}
